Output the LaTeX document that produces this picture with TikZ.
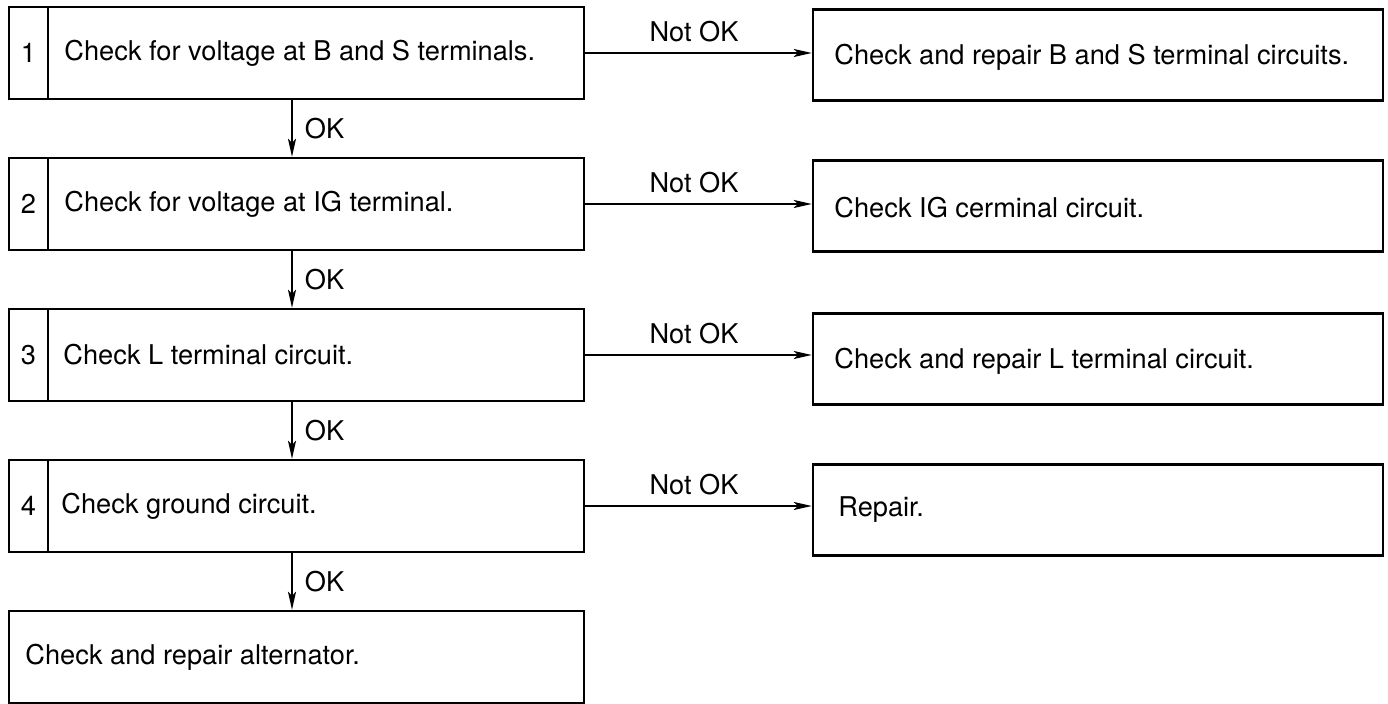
\documentclass[tikz,border=0pt]{standalone}
\usepackage{fontspec}
\setmainfont{TeX Gyre Heros}
\usetikzlibrary{arrows.meta}
\begin{document}
\begin{tikzpicture}[x=0.5pt,y=-0.5pt,
  box/.style={draw, line width=1.2pt, inner sep=0pt},
  txt/.style={font=\fontsize{13.6}{16}\selectfont, inner sep=0pt, anchor=west},
  lbl/.style={font=\fontsize{13.6}{16}\selectfont, inner sep=0pt},
  arr/.style={line width=0.9pt, -{Stealth[length=9pt,width=4pt,inset=2pt]}}]
\useasboundingbox (0,0) rectangle (1388,704);
% left step boxes: number cell + text cell
\foreach \i/\y in {1/53,2/204,3/355,4/506}{
  \node[box, minimum width=19.5pt, minimum height=46pt] (n\i) at (28.5,\y) {};
  \node[box, minimum width=268pt, minimum height=46pt] (t\i) at (316,\y) {};
}
\node[box, minimum width=287.5pt, minimum height=46pt] (t5) at (296.5,657) {};
% numbers
\foreach \i in {1,2,3,4}{ \node[lbl] (num\i) at (n\i.center) {\i}; }
% left texts
\node[txt] (a1) at (64,53) {Check for voltage at B and S terminals.};
\node[txt] (a2) at (64,204) {Check for voltage at IG terminal.};
\node[txt] (a3) at (63,355) {Check L terminal circuit.};
\node[txt] (a4) at (61,506) {Check ground circuit.};
\node[txt] (a5) at (25,657) {Check and repair alternator.};
% right boxes
\node[box, minimum width=285pt, minimum height=45.5pt] (r1) at (1098,55) {};
\node[box, minimum width=285pt, minimum height=45.5pt] (r2) at (1098,206) {};
\node[box, minimum width=285pt, minimum height=45.5pt] (r3) at (1098,359) {};
\node[box, minimum width=285pt, minimum height=45.5pt] (r4) at (1098,510) {};
\node[txt] (b1) at (834,57) {Check and repair B and S terminal circuits.};
\node[txt] (b2) at (834,208) {Check IG cerminal circuit.};
\node[txt] (b3) at (834,361) {Check and repair L terminal circuit.};
\node[txt] (b4) at (838,510) {Repair.};
% horizontal Not OK arrows
\foreach \i in {1,2,3,4}{
  \draw[arr] (t\i.east) -- (r\i.west |- t\i.east)
    node[lbl, pos=0.48, above=5pt] (no\i) {Not OK};
}
% vertical OK arrows
\coordinate (vx) at (292,0);
\foreach \i/\j in {1/2,2/3,3/4,4/5}{
  \draw[arr] (t\i.south -| vx) -- (t\j.north -| vx)
    node[lbl, midway, right=6pt] (ok\i) {OK};
}
\end{tikzpicture}
\end{document}
